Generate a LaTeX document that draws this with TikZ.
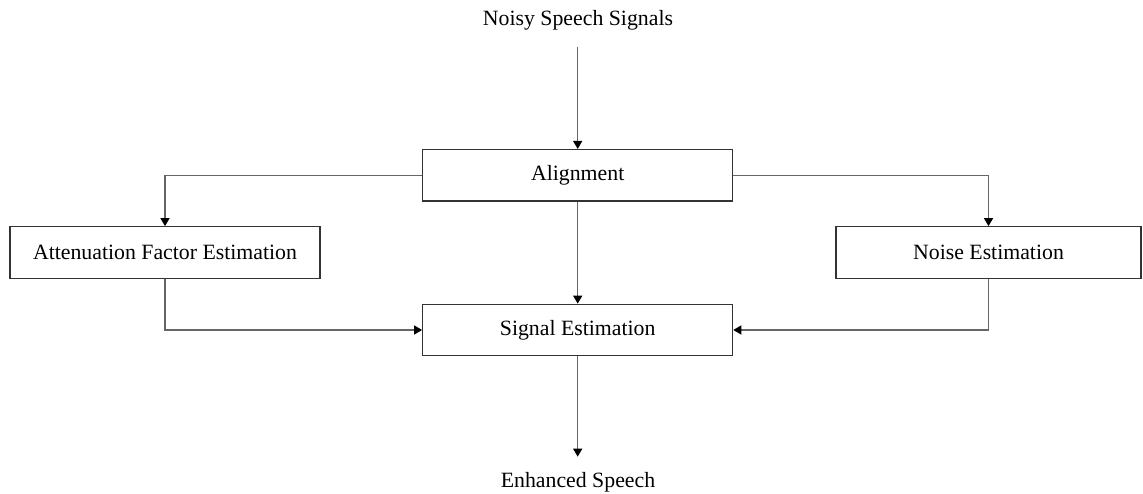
\documentclass[tikz,border=0pt]{standalone}
\usepackage{fontspec}
\setmainfont{Liberation Serif}
\usetikzlibrary{arrows.meta}
\begin{document}
\begin{tikzpicture}[x=1pt,y=-1pt,
  blk/.style={draw=black!80,line width=1.2pt,minimum width=310pt,minimum height=51.5pt,inner sep=0pt,font=\fontsize{21.8}{26}\selectfont},
  lbl/.style={inner sep=0pt,font=\fontsize{21.8}{26}\selectfont},
  conn/.style={draw=black!60,line width=1.4pt,-{Triangle[length=8pt,width=9pt,fill=black,color=black]}}]
\useasboundingbox (0,0) rectangle (1143,494);
\node[lbl] (in) at (578,20) {Noisy Speech Signals};
\node[blk] (al) at (577.7,175.3) {Alignment};
\node[blk] (af) at (165,252.5) {Attenuation Factor Estimation};
\node[blk,minimum width=305pt] (ne) at (988.5,252.5) {Noise Estimation};
\node[blk] (se) at (577.7,330) {Signal Estimation};
\node[lbl] (out) at (578,482) {Enhanced Speech};
\coordinate (inA) at (577.7,46.7);
\coordinate (outA) at (577.7,456.7);
\draw[conn] (inA) -- (al.north);
\draw[conn] (al.west) -| (af.north);
\draw[conn] (al.east) -| (ne.north);
\draw[conn] (al.south) -- (se.north);
\draw[conn] (af.south) |- (se.west);
\draw[conn] (ne.south) |- (se.east);
\draw[conn] (se.south) -- (outA);
\end{tikzpicture}
\end{document}
